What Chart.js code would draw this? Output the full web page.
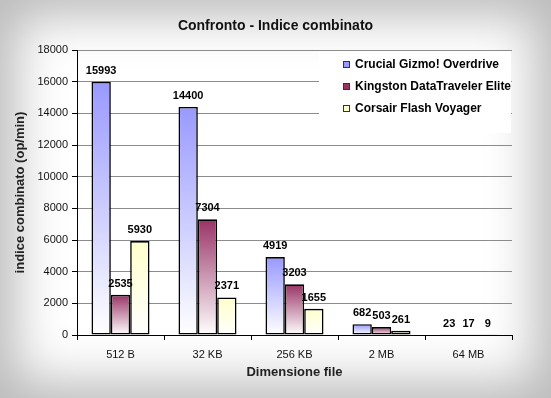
<!DOCTYPE html>
<html>
<head>
<meta charset="utf-8">
<script src="https://cdn.jsdelivr.net/npm/chart.js@4/dist/chart.umd.min.js"></script>
<style>
  html, body { margin: 0; padding: 0; background: #fff; }
  #wrap {
    position: relative;
    width: 551px;
    height: 398px;
    background: #fff;
    box-shadow: inset 0 0 50px 16px #bababa;
  }
  #chart { position: absolute; left: 0; top: 0; }
</style>
</head>
<body>
<div id="wrap"><canvas id="chart" width="551" height="398"></canvas></div>
<script>
const title = "Confronto - Indice combinato";
const xTitle = "Dimensione file";
const yTitle = "indice combinato (op/min)";
const categories = ["512 B", "32 KB", "256 KB", "2 MB", "64 MB"];
const seriesNames = ["Crucial Gizmo! Overdrive", "Kingston DataTraveler Elite", "Corsair Flash Voyager"];
const crucial = [15993, 14400, 4919, 682, 23];
const kingston = [2535, 7304, 3203, 503, 17];
const corsair = [5930, 2371, 1655, 261, 9];
const colors = ["#9999ff", "#993366", "#ffffcc"];
const yTicks = [0, 2000, 4000, 6000, 8000, 10000, 12000, 14000, 16000, 18000];

const FONT = "'Liberation Sans', Arial, sans-serif";

// vertical gradient per bar: colour at top, white at bottom
function barFill(color) {
    return (ctx) => {
        const chart = ctx.chart;
        const y = chart.scales.y;
        if (!chart.chartArea || !y || ctx.raw == null) return color;
        const top = y.getPixelForValue(ctx.raw);
        const bottom = y.getPixelForValue(0);
        if (!isFinite(top) || !isFinite(bottom) || bottom - top < 1) return color;
        const g = chart.ctx.createLinearGradient(0, top, 0, bottom);
        g.addColorStop(0, color);
        g.addColorStop(1, "#ffffff");
        return g;
    };
}

const valueLabels = {
    id: "valueLabels",
    afterDatasetsDraw(chart) {
        const ctx = chart.ctx;
        ctx.save();
        ctx.font = "bold 11px " + FONT;
        ctx.fillStyle = "#000";
        ctx.textAlign = "center";
        ctx.textBaseline = "alphabetic";
        chart.data.datasets.forEach((ds, i) => {
            chart.getDatasetMeta(i).data.forEach((bar, j) => {
                ctx.fillText(ds.data[j], bar.x, bar.y - 8);
            });
        });
        ctx.restore();
    },
};

const boxLegend = {
    id: "boxLegend",
    afterDraw(chart) {
        const ctx = chart.ctx;
        ctx.save();
        ctx.fillStyle = "#fff";
        ctx.fillRect(319, 51, 192, 82);
        ctx.font = "bold 12px " + FONT;
        ctx.textBaseline = "middle";
        ctx.textAlign = "left";
        chart.data.datasets.forEach((ds, i) => {
            const y = 65 + i * 22;
            ctx.fillStyle = colors[i];
            ctx.fillRect(343.5, y - 3.5, 6, 6);
            ctx.strokeStyle = "#333";
            ctx.lineWidth = 1;
            ctx.strokeRect(343.5, y - 3.5, 6, 6);
            ctx.fillStyle = "#000";
            ctx.fillText(ds.label, 355, y);
        });
        // chart title, centred on the whole picture
        ctx.font = "bold 14px " + FONT;
        ctx.textAlign = "center";
        ctx.fillStyle = "#111";
        ctx.fillText(title, chart.width / 2, 26);
        ctx.restore();
    },
};

new Chart(document.getElementById("chart"), {
    type: "bar",
    data: {
        labels: categories,
        datasets: [
            { label: seriesNames[0], data: crucial, backgroundColor: barFill(colors[0]) },
            { label: seriesNames[1], data: kingston, backgroundColor: barFill(colors[1]) },
            { label: seriesNames[2], data: corsair, backgroundColor: barFill(colors[2]) },
        ].map((d) => Object.assign(d, { borderColor: "#000", borderWidth: 1.6, borderSkipped: false })),
    },
    options: {
        responsive: false,
        animation: false,
        events: [],
        datasets: {
            bar: { categoryPercentage: 0.667, barPercentage: 1 },
        },
        layout: { padding: { top: 50, left: 10, right: 39, bottom: 10 } },
        plugins: {
            legend: { display: false },
            title: { display: false },
            tooltip: { enabled: false },
        },
        scales: {
            x: {
                afterFit: (s) => { s.height = 53; },
                grid: { offset: true, drawOnChartArea: false, drawTicks: true, tickLength: 5, tickColor: "#000" },
                border: { color: "#000", width: 1 },
                ticks: { color: "#111", font: { family: FONT, size: 11 }, padding: 8 },
                title: { display: true, text: xTitle, color: "#222", font: { family: FONT, size: 13, weight: "bold" }, padding: { top: 0, bottom: 8 } },
            },
            y: {
                min: 0,
                max: 18000,
                afterFit: (s) => { s.width = 67; },
                afterBuildTicks: (s) => { s.ticks = yTicks.map((v) => ({ value: v })); },
                grid: { color: "#8c8c8c", tickLength: 5, tickColor: "#000" },
                border: { color: "#000", width: 1 },
                ticks: {
                    color: "#111",
                    font: { family: FONT, size: 11 },
                    padding: 4,
                    callback: (value) => String(value),
                },
                title: { display: true, text: yTitle, color: "#222", font: { family: FONT, size: 13, weight: "bold" }, padding: { top: 3, bottom: 4 } },
            },
        },
    },
    plugins: [valueLabels, boxLegend],
});
</script>
</body>
</html>
